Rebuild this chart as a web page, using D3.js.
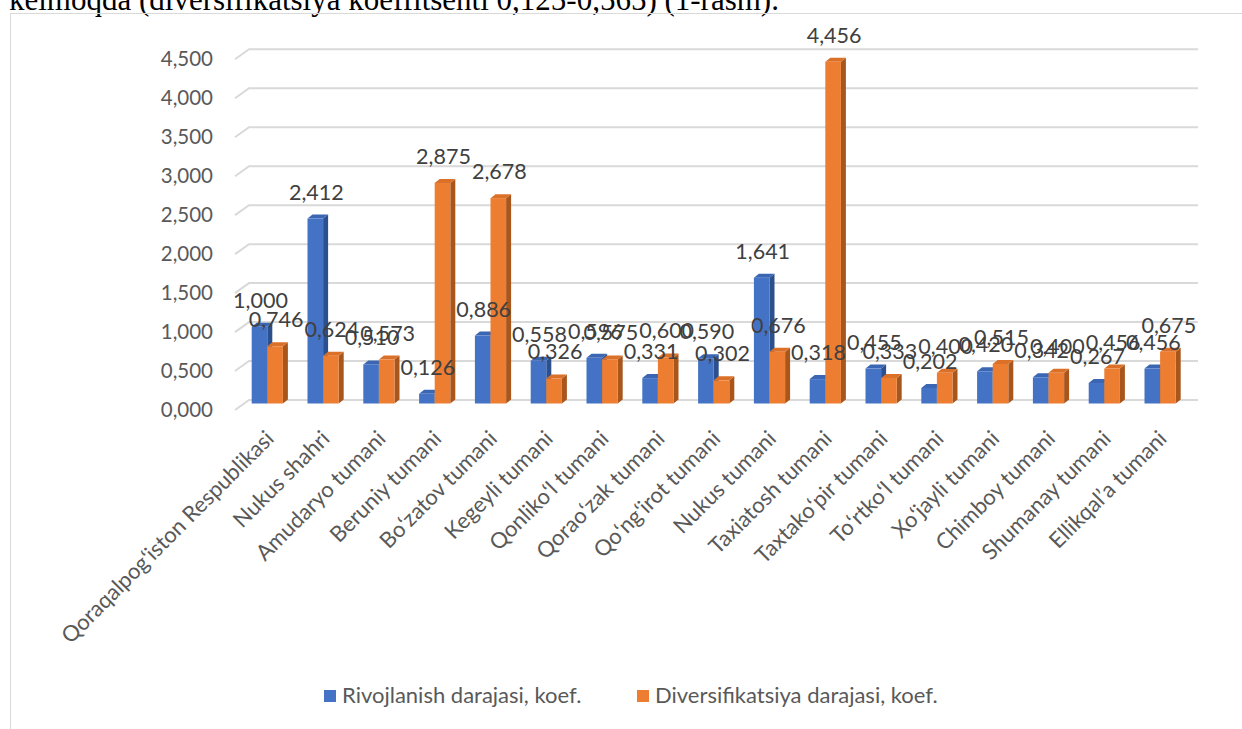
<!DOCTYPE html>
<html>
<head>
<meta charset="utf-8">
<script src="https://cdn.jsdelivr.net/npm/d3@7"></script>
<style>
  html, body { margin: 0; padding: 0; background: #fff; }
  svg { display: block; }
</style>
</head>
<body>
<svg id="chart" width="1242" height="729"></svg>
<script>
// ---- data ----
const categories = [
  "Qoraqalpogʻiston Respublikasi", "Nukus shahri", "Amudaryo tumani", "Beruniy tumani",
  "Boʻzatov tumani", "Kegeyli tumani", "Qonlikoʻl tumani", "Qoraoʻzak tumani",
  "Qoʻngʻirot tumani", "Nukus tumani", "Taxiatosh tumani", "Taxtakoʻpir tumani",
  "Toʻrtkoʻl tumani", "Xoʻjayli tumani", "Chimboy tumani", "Shumanay tumani", "Ellikqalʼa tumani"
];
const rivojlanish = [1.000, 2.412, 0.510, 0.126, 0.886, 0.558, 0.596, 0.331, 0.590, 1.641, 0.318, 0.455, 0.202, 0.420, 0.342, 0.267, 0.456];
const diversifikatsiya = [0.746, 0.624, 0.573, 2.875, 2.678, 0.326, 0.575, 0.600, 0.302, 0.676, 4.456, 0.333, 0.400, 0.515, 0.400, 0.456, 0.675];
const seriesNames = ["Rivojlanish darajasi, koef.", "Diversifikatsiya darajasi, koef."];
const yTicks = [0, 0.5, 1, 1.5, 2, 2.5, 3, 3.5, 4, 4.5];
const headingText = "kelmoqda (diversifikatsiya koeffitsenti 0,125-0,565) (1-rasm).";

// ---- styles ----
const FONT = "Lato, 'Open Sans', sans-serif";
const colors = [
  { front: "#4472C4", side: "#2C4F8E", top: "#3A66B4" },
  { front: "#ED7D31", side: "#A9561D", top: "#DB7028" }
];
const fmt = v => d3.format(".3f")(v).replace(".", ",");
const tickFmt = v => d3.format(",.3f")(v).replace(".", ",");

const svg = d3.select("#chart");

// heading text (cut at top)
svg.append("text")
  .attr("x", 9).attr("y", 9.5)
  .attr("font-family", "'Liberation Serif', 'Times New Roman', serif")
  .attr("font-size", 31).attr("fill", "#000")
  .text(headingText);

// chart frame
svg.append("rect")
  .attr("x", 10.5).attr("y", 13.5).attr("width", 1300).attr("height", 800)
  .attr("fill", "none").attr("stroke", "#d9d9d9").attr("stroke-width", 1);

// scales
const x = d3.scaleBand().domain(categories).range([239.4, 1188]).padding(0);
const yBack = d3.scaleLinear().domain([0, 4.5]).range([400, 49.3]);
const yFront = d3.scaleLinear().domain([0, 4.5]).range([410, 59.3]);
const yBar = d3.scaleLinear().domain([0, 4.5]).range([403.5, 58.4]);
const depthX = 14, barW = 15.6, bdx = 5, bdy = 4;
const xLeft = 235, xRight = 1198;

// gridlines (3D wall style)
const grid = svg.append("g");
yTicks.forEach(t => {
  grid.append("path")
    .attr("d", `M${xLeft},${yFront(t)} L${xLeft + depthX},${yBack(t)} L${xRight},${yBack(t)}`)
    .attr("fill", "none").attr("stroke", "#d9d9d9").attr("stroke-width", 2);
});

// y axis labels
svg.append("g").selectAll("text").data(yTicks).join("text")
  .attr("x", 213).attr("y", d => yFront(d) - 1)
  .attr("text-anchor", "end").attr("dominant-baseline", "central")
  .attr("font-family", FONT).attr("font-size", 20.5).attr("fill", "#595959")
  .text(tickFmt);

// bars
const series = [rivojlanish, diversifikatsiya];
const bars = svg.append("g");
categories.forEach((c, i) => {
  const cx = x(c) + x.bandwidth() / 2;
  series.forEach((vals, s) => {
    const v = vals[i];
    const x0 = cx - barW + s * barW;
    const x1 = x0 + barW;
    const yt = yBar(v), yb = yBar(0);
    const col = colors[s];
    bars.append("path")
      .attr("d", `M${x1},${yb} L${x1},${yt} L${x1 + bdx},${yt - bdy} L${x1 + bdx},${yb - bdy} Z`)
      .attr("fill", col.side);
    bars.append("path")
      .attr("d", `M${x0},${yt} L${x0 + bdx},${yt - bdy} L${x1 + bdx},${yt - bdy} L${x1},${yt} Z`)
      .attr("fill", col.top);
    bars.append("rect")
      .attr("x", x0).attr("y", yt).attr("width", barW).attr("height", yb - yt)
      .attr("fill", col.front);
  });
});

// value labels
const labels = svg.append("g");
categories.forEach((c, i) => {
  const cx = x(c) + x.bandwidth() / 2;
  series.forEach((vals, s) => {
    const v = vals[i];
    labels.append("text")
      .attr("x", cx - barW / 2 + s * barW + 1)
      .attr("y", yBar(v) - 19)
      .attr("text-anchor", "middle")
      .attr("font-family", FONT).attr("font-size", 21.5).attr("fill", "#404040")
      .text(fmt(v));
  });
});

// category labels
svg.append("g").selectAll("text").data(categories).join("text")
  .attr("transform", d => `translate(${x(d) + x.bandwidth() / 2 + 8},${440}) rotate(-45)`)
  .attr("text-anchor", "end")
  .attr("font-family", FONT).attr("font-size", 22).attr("fill", "#595959")
  .text(d => d);

// legend
const legend = svg.append("g");
const legendX = [324, 637];
seriesNames.forEach((n, s) => {
  legend.append("rect")
    .attr("x", legendX[s]).attr("y", 690).attr("width", 12).attr("height", 12)
    .attr("fill", colors[s].front);
  legend.append("text")
    .attr("x", legendX[s] + 18).attr("y", 703)
    .attr("font-family", FONT).attr("font-size", 22).attr("fill", "#595959")
    .text(n);
});
</script>
</body>
</html>
